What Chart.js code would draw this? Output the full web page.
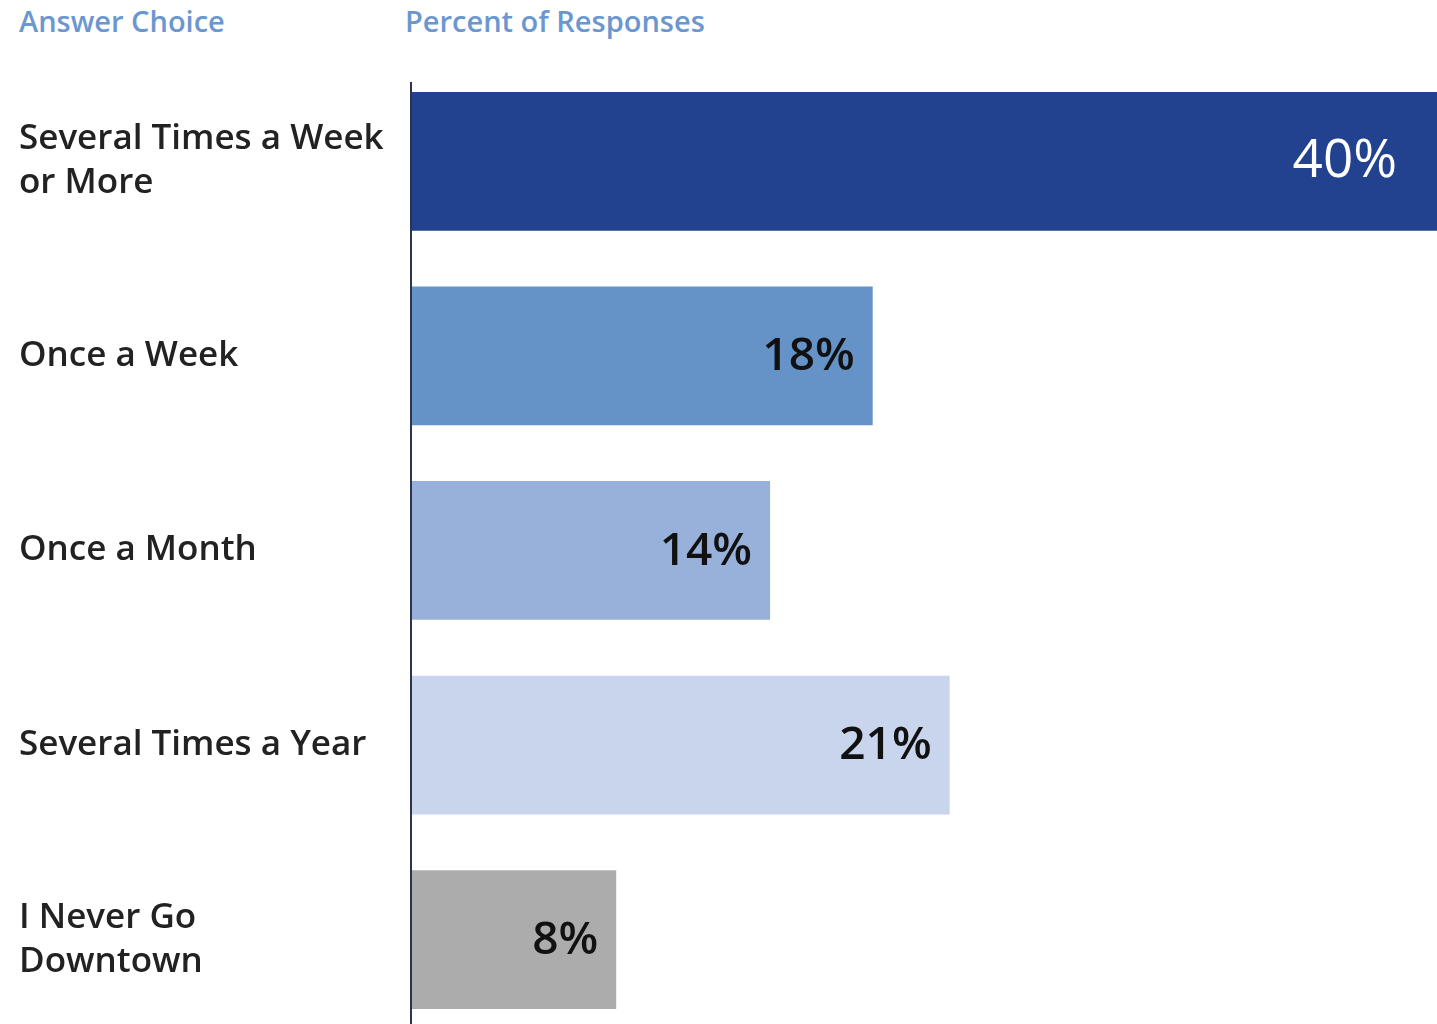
<!DOCTYPE html>
<html>
<head>
<meta charset="utf-8">
<script src="https://cdn.jsdelivr.net/npm/chart.js@4"></script>
<style>
	html, body { margin: 0; padding: 0; background: #fff; overflow: hidden; }
	#wrap { position: relative; width: 1437px; height: 1084px; }
	.head { position: absolute; top: 1px; font-family: "Open Sans", sans-serif; font-size: 29px; font-weight: 600; color: #6b97d0; }
	canvas { position: absolute; left: 0; top: 0; }
</style>
</head>
<body>
<div id="wrap">
	<div class="head" style="left: 19px;">Answer Choice</div>
	<div class="head" style="left: 405px;">Percent of Responses</div>
	<canvas id="freq-chart" width="1437" height="1084"></canvas>
</div>
<script>
const answers = [
	["Several Times a Week", "or More"],
	"Once a Week",
	"Once a Month",
	"Several Times a Year",
	["I Never Go", "Downtown"]
];
const percents = [40, 18, 14, 21, 8];
const barColors = ["#22418e", "#6593c8", "#97b1da", "#c9d5ec", "#acacac"];
const labelColors = ["#ffffff", "#111111", "#111111", "#111111", "#111111"];

// Percent text written inside the right end of each bar
const barLabels = {
	id: "barLabels",
	afterDatasetsDraw(chart)
	{
		const ctx = chart.ctx;
		const bars = chart.getDatasetMeta(0).data;
		ctx.save();
		ctx.textAlign = "right";
		ctx.textBaseline = "middle";
		bars.forEach(function (bar, i)
		{
			ctx.font = i === 0 ? "400 53px 'Open Sans'" : "600 46px 'Open Sans'";
			ctx.fillStyle = labelColors[i];
			let inset = i === 0 ? 40 : 18;
			ctx.fillText(percents[i] + "%", bar.x - inset, bar.y + 1);
		});
		ctx.restore();
	}
};

// Vertical axis line, starts a little above the first bar
const axisLine = {
	id: "axisLine",
	afterDatasetsDraw(chart)
	{
		const ctx = chart.ctx;
		const area = chart.chartArea;
		ctx.save();
		ctx.strokeStyle = "#2b3552";
		ctx.lineWidth = 2;
		ctx.beginPath();
		ctx.moveTo(area.left, 82);
		ctx.lineTo(area.left, chart.height);
		ctx.stroke();
		ctx.restore();
	}
};

function drawChart()
{
	new Chart(document.getElementById("freq-chart"), {
		type: "bar",
		data: {
			labels: answers,
			datasets: [{
				data: percents,
				backgroundColor: barColors,
				borderWidth: 0,
				categoryPercentage: 1,
				barPercentage: 0.713
			}]
		},
		options: {
			indexAxis: "y",
			responsive: false,
			animation: false,
			layout: { padding: { top: 64, left: 19, right: 0, bottom: 45 } },
			plugins: { legend: { display: false }, tooltip: { enabled: false } },
			scales: {
				x: { display: false, min: 0, max: 40 },
				y: {
					grid: { display: false },
					border: { display: false },
					afterFit(scale) { scale.width = 392; },
					ticks: {
						crossAlign: "far",
						color: "#222222",
						font: { family: "'Open Sans'", size: 35, weight: 600, lineHeight: 1.26 }
					}
				}
			}
		},
		plugins: [barLabels, axisLine]
	});
}

Promise.all([
	document.fonts.load("600 35px 'Open Sans'"),
	document.fonts.load("400 53px 'Open Sans'"),
	document.fonts.load("600 46px 'Open Sans'")
]).then(drawChart, drawChart);
</script>
</body>
</html>
